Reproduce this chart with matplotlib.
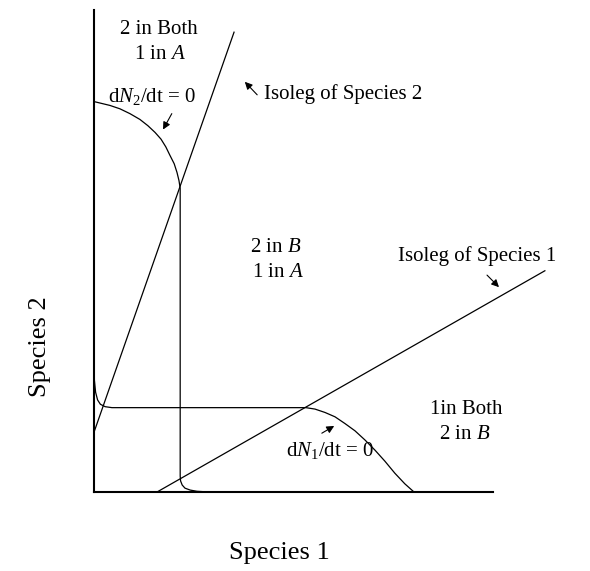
import matplotlib
matplotlib.use("Agg")
import matplotlib.pyplot as plt

plt.rcParams['font.family'] = ['Liberation Serif', 'DejaVu Serif']
plt.rcParams['mathtext.fontset'] = 'custom'
plt.rcParams['mathtext.rm'] = 'Liberation Serif'
plt.rcParams['mathtext.it'] = 'Liberation Serif:italic'

# Isolegs (straight lines, arbitrary units)
iso2_x = [0.0, 35.1]
iso2_y = [12.4, 95.4]
iso1_x = [15.8, 113.0]
iso1_y = [0.0, 45.9]

# dN2/dt = 0 isocline
dn2_x = [0.0, 1.5, 4.0, 6.5, 9.0, 11.5, 13.5, 15.3, 16.8, 18.0, 19.0, 20.1,
         20.8, 21.3, 21.6, 21.6, 21.7, 22.1, 22.8, 24.1, 25.8, 27.8, 30.3]
dn2_y = [81.0, 80.7, 80.2, 79.5, 78.5, 77.3, 76.0, 74.6, 73.2, 71.6, 69.9, 68.1,
         66.3, 64.6, 63.0, 3.3, 2.3, 1.45, 0.8, 0.4, 0.15, 0.05, 0.0]

# dN1/dt = 0 isocline
dn1_x = [0.0, 0.1, 0.4, 0.9, 1.6, 2.8, 4.5, 53.1, 55.4, 57.9, 60.4, 62.9,
         65.4, 67.9, 70.4, 72.9, 75.4, 77.9, 80.2]
dn1_y = [30.0, 23.2, 20.7, 19.1, 18.2, 17.7, 17.5, 17.5, 17.2, 16.5, 15.6, 14.2,
         12.7, 10.8, 8.7, 6.4, 3.9, 1.7, 0.0]

fig = plt.figure(figsize=(5.9, 5.71), dpi=100)
ax = fig.add_axes([94/590, (571-492)/571, 399/590, 482/571])
ax.set_xlim(0, 100)
ax.set_ylim(0, 100)
for s in ['top', 'right']:
    ax.spines[s].set_visible(False)
for s in ['left', 'bottom']:
    ax.spines[s].set_linewidth(1.5)
    ax.spines[s].set_zorder(5)
ax.set_xticks([])
ax.set_yticks([])

lw = 0.9
ax.plot(iso2_x, iso2_y, color='black', lw=lw, clip_on=False)
ax.plot(iso1_x, iso1_y, color='black', lw=lw, clip_on=False)
ax.plot(dn2_x, dn2_y, color='black', lw=lw, clip_on=False)
ax.plot(dn1_x, dn1_y, color='black', lw=lw, clip_on=False)

fs = 15
def txt(x, y, s, ha='center'):
    ax.text(x, y, s, fontsize=fs, ha=ha, va='baseline', clip_on=False)

txt(16.3, 95.0, '2 in Both')
txt(16.5, 89.8, r'1 in $A$')
txt(14.5, 80.9, r'd$N_2$/dt = 0')
txt(42.6, 81.5, 'Isoleg of Species 2', ha='left')
txt(45.6, 49.8, r'2 in $B$')
txt(46.1, 44.6, r'1 in $A$')
txt(96.0, 47.9, 'Isoleg of Species 1')
txt(93.2, 16.2, '1in Both')
txt(93.0, 11.0, r'2 in $B$')
txt(59.1, 7.5, r'd$N_1$/dt = 0')

def arrow(tail, head):
    ax.annotate('', xy=head, xytext=tail, annotation_clip=False,
                arrowprops=dict(arrowstyle='-|>', lw=0.8, color='black',
                                mutation_scale=11, shrinkA=0, shrinkB=0))

arrow((19.5, 78.5), (17.3, 75.2))
arrow((40.9, 82.4), (37.8, 85.1))
arrow((98.5, 45.0), (101.5, 42.5))
arrow((57.1, 12.2), (60.2, 13.7))

fig.text(279/590, 1 - 553/571, 'Species 1', fontsize=19, ha='center', va='center')
fig.text(40/590, 1 - 347/571, 'Species 2', fontsize=19, ha='center', va='center',
         rotation=90)

fig.savefig('out.png', dpi=100)
